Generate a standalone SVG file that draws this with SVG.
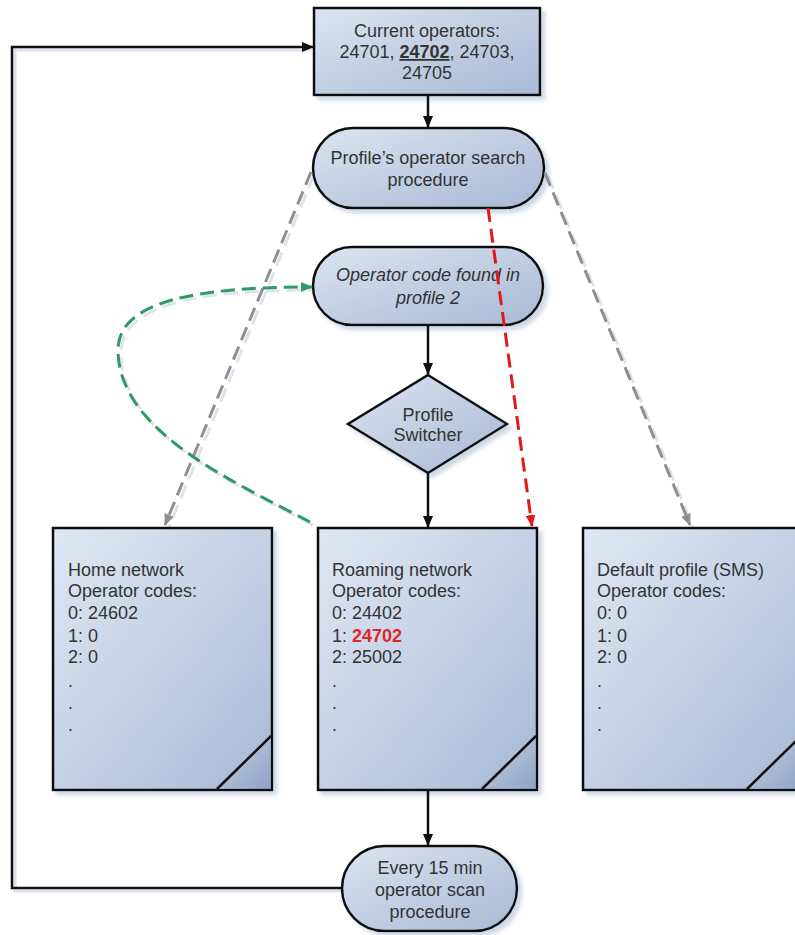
<svg xmlns="http://www.w3.org/2000/svg" width="795" height="935" viewBox="0 0 795 935">
<defs>
  <linearGradient id="fillG" x1="0" y1="0" x2="1" y2="1">
    <stop offset="0" stop-color="#dbe4f1"/>
    <stop offset="1" stop-color="#a7b9d5"/>
  </linearGradient>
  <linearGradient id="docG" x1="0" y1="0" x2="1" y2="1">
    <stop offset="0" stop-color="#dfe7f3"/>
    <stop offset="0.6" stop-color="#bfcde3"/>
    <stop offset="1" stop-color="#a5b8d5"/>
  </linearGradient>
  <linearGradient id="curlG" x1="0" y1="0" x2="1" y2="1">
    <stop offset="0" stop-color="#d5deec"/>
    <stop offset="1" stop-color="#7f94b8"/>
  </linearGradient>
  <filter id="sh" x="-10%" y="-10%" width="130%" height="130%">
    <feGaussianBlur in="SourceAlpha" stdDeviation="2"/>
    <feOffset dx="4" dy="4" result="b"/>
    <feFlood flood-color="#b9c6da" flood-opacity="0.7"/>
    <feComposite in2="b" operator="in"/>
    <feMerge><feMergeNode/><feMergeNode in="SourceGraphic"/></feMerge>
  </filter>
  <marker id="aBlack" viewBox="0 0 12 10" refX="11" refY="5" markerWidth="12" markerHeight="10" markerUnits="userSpaceOnUse" orient="auto">
    <path d="M0,0 L12,5 L0,10 z" fill="#111"/>
  </marker>
  <marker id="aGray" viewBox="0 0 12 10" refX="11" refY="5" markerWidth="12" markerHeight="10" markerUnits="userSpaceOnUse" orient="auto">
    <path d="M0,0 L12,5 L0,10 z" fill="#8f8f8f"/>
  </marker>
  <marker id="aRed" viewBox="0 0 12 10" refX="11" refY="5" markerWidth="12" markerHeight="10" markerUnits="userSpaceOnUse" orient="auto">
    <path d="M0,0 L12,5 L0,10 z" fill="#e01a1a"/>
  </marker>
  <marker id="aGreen" viewBox="0 0 12 10" refX="11" refY="5" markerWidth="12" markerHeight="10" markerUnits="userSpaceOnUse" orient="auto">
    <path d="M0,0 L12,5 L0,10 z" fill="#2f9a63"/>
  </marker>
  <style>
    .node { fill: url(#fillG); stroke: #111; stroke-width: 2.5; filter: url(#sh); }
    .doc { fill: url(#docG); stroke: #111; stroke-width: 2.5; filter: url(#sh); }
    .fold { stroke: #111; stroke-width: 2.5; fill: none; }
    .curl { fill: url(#curlG); stroke: none; }
    text { font-family: "Liberation Sans", Arial, sans-serif; font-size: 18px; fill: #333; }
    .c { text-anchor: middle; }
    .it { font-style: italic; }
    .solid { fill: none; stroke: #111; stroke-width: 2.5; }
    .shadowLine { fill: none; stroke: #dde3ed; stroke-width: 3; }
    .gray { fill: none; stroke: #8f8f8f; stroke-width: 3; stroke-dasharray: 14 7; }
    .red { fill: none; stroke: #e01a1a; stroke-width: 3; stroke-dasharray: 14 7; }
    .green { fill: none; stroke: #2f9a63; stroke-width: 3; stroke-dasharray: 14 7; }
  </style>
</defs>

<g id="connectors-shadow">
  <path class="shadowLine" d="M345,891 H15 V50 H310"/>
  <path class="shadowLine" d="M314,175 L169,527" stroke-dasharray="14 7"/>
  <path class="shadowLine" d="M548,176 L693,527" stroke-dasharray="14 7"/>
  <path class="shadowLine" d="M313,525 C233,483 121,433 121,353 C121,303 203,290 312,290" stroke-dasharray="14 7"/>
</g>

<g id="n-current">
  <rect class="node" x="314" y="8" width="226" height="87"/>
  <text class="c" x="427" y="37">Current operators:</text>
  <text class="c" x="427" y="58">24701, <tspan font-weight="bold" text-decoration="underline">24702</tspan>, 24703,</text>
  <text class="c" x="427" y="79">24705</text>
</g>

<g id="n-search">
  <rect class="node" x="313" y="128" width="231" height="80" rx="40" ry="40"/>
  <text class="c" x="428" y="164">Profile’s operator search</text>
  <text class="c" x="428" y="186">procedure</text>
</g>

<g id="n-found">
  <rect class="node" x="313" y="247" width="230" height="78" rx="39" ry="39"/>
  <text class="c it" x="428" y="281">Operator code found in</text>
  <text class="c it" x="428" y="304">profile 2</text>
</g>

<g id="n-switcher">
  <path class="node" d="M428,375 L507,424 L428,473 L348,424 Z"/>
  <text class="c" x="428" y="421">Profile</text>
  <text class="c" x="428" y="441">Switcher</text>
</g>

<g id="n-home">
  <rect class="doc" x="53" y="528" width="219" height="262"/>
  <path class="curl" d="M217,789 L271,736 L271,789 Z" opacity="0.6"/>
  <path class="fold" d="M217,789 L271,736"/>
  <text x="68" y="576">Home network</text>
  <text x="68" y="597">Operator codes:</text>
  <text x="68" y="619">0: 24602</text>
  <text x="68" y="642">1: 0</text>
  <text x="68" y="663">2: 0</text>
  <text x="68" y="687">.</text>
  <text x="68" y="709">.</text>
  <text x="68" y="731">.</text>
</g>

<g id="n-roaming">
  <rect class="doc" x="318" y="528" width="219" height="262"/>
  <path class="curl" d="M482,789 L536,736 L536,789 Z" opacity="0.6"/>
  <path class="fold" d="M482,789 L536,736"/>
  <text x="332" y="576">Roaming network</text>
  <text x="332" y="597">Operator codes:</text>
  <text x="332" y="619">0: 24402</text>
  <text x="332" y="642">1: <tspan font-weight="bold" fill="#e0262b">24702</tspan></text>
  <text x="332" y="663">2: 25002</text>
  <text x="332" y="687">.</text>
  <text x="332" y="709">.</text>
  <text x="332" y="731">.</text>
</g>

<g id="n-default">
  <rect class="doc" x="583" y="528" width="219" height="262"/>
  <path class="curl" d="M747,789 L801,736 L801,789 Z" opacity="0.6"/>
  <path class="fold" d="M747,789 L801,736"/>
  <text x="597" y="576">Default profile (SMS)</text>
  <text x="597" y="597">Operator codes:</text>
  <text x="597" y="619">0: 0</text>
  <text x="597" y="642">1: 0</text>
  <text x="597" y="663">2: 0</text>
  <text x="597" y="687">.</text>
  <text x="597" y="709">.</text>
  <text x="597" y="731">.</text>
</g>

<g id="n-scan">
  <rect class="node" x="342" y="846" width="175" height="85" rx="42.5" ry="42.5"/>
  <text class="c" x="430" y="874">Every 15 min</text>
  <text class="c" x="430" y="896">operator scan</text>
  <text class="c" x="430" y="918">procedure</text>
</g>

<g id="connectors">
  <path class="solid" d="M428,95 V127" marker-end="url(#aBlack)"/>
  <path class="solid" d="M428,325 V374" marker-end="url(#aBlack)"/>
  <path class="solid" d="M428,473 V527" marker-end="url(#aBlack)"/>
  <path class="solid" d="M428,790 V845" marker-end="url(#aBlack)"/>
  <path class="solid" d="M342,888 H12 V47 H313" marker-end="url(#aBlack)"/>
  <path class="gray" d="M311,172 L165,525" marker-end="url(#aGray)"/>
  <path class="gray" d="M545,173 L690,525" marker-end="url(#aGray)"/>
  <path class="red" d="M488,208 L532,526" marker-end="url(#aRed)"/>
  <path class="green" d="M310,522 C230,480 118,430 118,350 C118,300 200,287 312,287" marker-end="url(#aGreen)"/>
</g>
</svg>
